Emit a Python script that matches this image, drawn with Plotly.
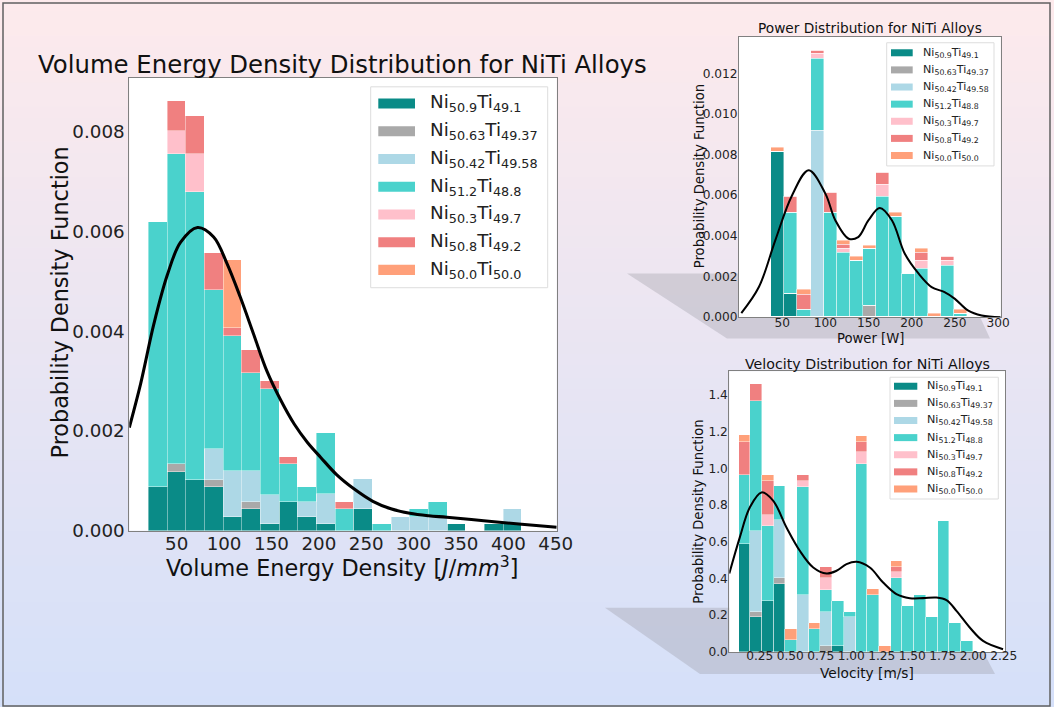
import plotly.graph_objects as go

W, H = 1054, 707          # reference canvas, all geometry below is given in these pixels
S = 1070 / 1054           # the page is photographed slightly larger than the window; compensate

# ---------------- data ----------------
alloys = ["Ni<sub>50.9</sub>Ti<sub>49.1</sub>", "Ni<sub>50.63</sub>Ti<sub>49.37</sub>",
          "Ni<sub>50.42</sub>Ti<sub>49.58</sub>", "Ni<sub>51.2</sub>Ti<sub>48.8</sub>",
          "Ni<sub>50.3</sub>Ti<sub>49.7</sub>", "Ni<sub>50.8</sub>Ti<sub>49.2</sub>",
          "Ni<sub>50.0</sub>Ti<sub>50.0</sub>"]
colors = ["#0a8b87", "#a9a9a9", "#add8e6", "#4ad2cc", "#ffc0cb", "#f08080", "#ffa07a"]

# Volume energy density histogram (20 bins)
ved_bin_start, ved_bin_width = 20.1, 19.7
ved_dark = [0.00088, 0.00118, 0.00103, 0.00088, 0.00028, 0.00043, 0.00013, 0.00059, 0.00028, 0.00013,
            0, 0.00043, 0, 0, 0, 0, 0.00013, 0, 0.00013, 0.00013]
ved_gray = [0, 0.00017, 0, 0.00015, 0, 0.00015, 0, 0, 0, 0, 0, 0, 0, 0, 0, 0, 0, 0, 0, 0]
ved_lightblue = [0, 0, 0, 0.00062, 0.00092, 0.00062, 0.0006, 0, 0.00031, 0.00062,
                 0, 0.00061, 0, 0.00028, 0.00028, 0.00028, 0, 0, 0, 0.00031]
ved_turq = [0.00531, 0.00621, 0.00577, 0.00318, 0.00271, 0.00197, 0.00212, 0.00076, 0.00029, 0.00122,
            0.00043, 0, 0.00013, 0, 0.00016, 0.00031, 0, 0, 0, 0]
ved_pink = [0, 0.00046, 0.00076, 0, 0, 0, 0, 0, 0, 0, 0, 0, 0, 0, 0, 0, 0, 0, 0, 0]
ved_red = [0, 0.00059, 0.00075, 0.00075, 0.00016, 0.00045, 0.00016, 0.00014, 0, 0,
           0.00015, 0, 0, 0, 0, 0, 0, 0, 0, 0]
ved_orange = [0, 0, 0, 0, 0.00136, 0, 0, 0, 0, 0, 0, 0, 0, 0, 0, 0, 0, 0, 0, 0]
ved_kde_x = [0, 12, 26, 40, 54, 72, 89, 103, 117, 131, 145, 160, 174, 188, 202, 219, 237,
             257, 276, 296, 316, 335, 374, 414, 451]
ved_kde_y = [0.00207, 0.00295, 0.00415, 0.00512, 0.00578, 0.00608, 0.00589, 0.00536, 0.00469, 0.00395,
             0.00321, 0.00261, 0.00214, 0.00177, 0.00147, 0.00112, 0.00084, 0.00059, 0.00044, 0.00035,
             0.0003, 0.00027, 0.0002, 0.00013, 0.00007]

# Power histogram (15 bins)
pow_bin_start, pow_bin_width = 37.5, 15.1
pow_dark = [0.00812, 0.00115, 0, 0, 0, 0, 0, 0, 0, 0, 0, 0, 0, 0, 0]
pow_gray = [0, 0, 0, 0, 0, 0, 0, 0.00058, 0, 0, 0, 0, 0, 0, 0]
pow_lightblue = [0, 0, 0, 0.00915, 0, 0, 0, 0, 0, 0, 0, 0, 0, 0, 0]
pow_turq = [0, 0.00399, 0.00038, 0.00355, 0.00514, 0.00316, 0.00276, 0.00277, 0.00592, 0.00493,
            0.00214, 0.00238, 0, 0.00255, 0.00016]
pow_pink = [0, 0, 0, 0.00025, 0, 0.00021, 0, 0, 0.00062, 0, 0, 0.00038, 0, 0.00021, 0]
pow_red = [0, 0.00079, 0.00074, 0.00018, 0.00099, 0.00021, 0, 0, 0.00058, 0, 0, 0.00041, 0, 0.0002, 0]
pow_orange = [0.00021, 0, 0.00024, 0, 0, 0.0002, 0.0002, 0.00018, 0, 0.00021, 0, 0.00018, 0.00016, 0, 0.0002]
pow_kde_x = [2.7, 23, 42, 61.5, 80.7, 100, 111.5, 127, 138, 150, 163, 177, 192, 208, 223, 238,
             250, 265, 281, 303]
pow_kde_y = [0.0002, 0.00148, 0.00378, 0.006, 0.00723, 0.00608, 0.00477, 0.00386, 0.00394, 0.00477,
             0.00537, 0.00477, 0.00312, 0.00214, 0.00148, 0.00123, 0.0009, 0.00033, 0.00008, 0.0]

# Velocity histogram (20 bins)
vel_bin_start, vel_bin_width = 0.078, 0.096
vel_dark = [0.587, 0.187, 0.278, 0.369, 0, 0, 0, 0, 0.033, 0, 0, 0, 0, 0, 0, 0, 0, 0, 0, 0]
vel_gray = [0, 0.031, 0, 0.031, 0, 0, 0, 0.033, 0, 0, 0, 0, 0, 0, 0, 0, 0, 0, 0, 0]
vel_lightblue = [0, 0.437, 0, 0.315, 0, 0.311, 0, 0.185, 0, 0.187, 0, 0, 0, 0, 0, 0, 0, 0, 0, 0]
vel_turq = [0.373, 0.71, 0.404, 0.185, 0.064, 0.585, 0.124, 0.12, 0.245, 0.031, 1.024, 0.309, 0,
            0.4, 0.247, 0.309, 0.187, 0.711, 0.155, 0.06]
vel_pink = [0, 0, 0.063, 0, 0, 0.033, 0, 0.062, 0, 0, 0.063, 0, 0, 0.033, 0, 0, 0, 0, 0, 0]
vel_red = [0.182, 0.091, 0.184, 0, 0, 0.031, 0, 0.064, 0, 0, 0.055, 0, 0, 0.031, 0, 0, 0, 0, 0, 0]
vel_orange = [0.036, 0, 0.031, 0, 0.06, 0, 0.031, 0, 0, 0, 0.033, 0.031, 0.033, 0.032, 0, 0, 0, 0, 0, 0]
vel_kde_x = [0, 0.086, 0.168, 0.264, 0.359, 0.469, 0.578, 0.688, 0.797, 0.879, 0.961, 1.043, 1.152,
             1.261, 1.37, 1.48, 1.589, 1.698, 1.78, 1.862, 1.971, 2.08, 2.244]
vel_kde_y = [0.427, 0.624, 0.787, 0.869, 0.824, 0.678, 0.551, 0.46, 0.427, 0.442, 0.478, 0.491, 0.46,
             0.378, 0.315, 0.293, 0.293, 0.296, 0.282, 0.224, 0.133, 0.06, 0.015]

ved_series = [ved_dark, ved_gray, ved_lightblue, ved_turq, ved_pink, ved_red, ved_orange]
pow_series = [pow_dark, pow_gray, pow_lightblue, pow_turq, pow_pink, pow_red, pow_orange]
vel_series = [vel_dark, vel_gray, vel_lightblue, vel_turq, vel_pink, vel_red, vel_orange]

# ---------------- helpers ----------------
def px(x):
    return x / W

def py(y):
    return 1 - y / H

def fs(v):
    return v * S

FONT = "DejaVu Sans"

fig = go.Figure()

def add_hist(series, start, width, xa, ya):
    centers = [start + width * (i + 0.5) for i in range(len(series[0]))]
    for name, col, vals in zip(alloys, colors, series):
        fig.add_trace(go.Bar(
            x=centers, y=vals, width=width, name=name,
            marker=dict(color=col, line=dict(color="rgba(255,255,255,0.7)", width=0.6)),
            xaxis=xa, yaxis=ya, showlegend=False, hoverinfo="skip"))

add_hist(ved_series, ved_bin_start, ved_bin_width, "x", "y")
add_hist(pow_series, pow_bin_start, pow_bin_width, "x2", "y2")
add_hist(vel_series, vel_bin_start, vel_bin_width, "x3", "y3")

fig.add_trace(go.Scatter(x=ved_kde_x, y=ved_kde_y, mode="lines",
                         line=dict(color="black", width=fs(3), shape="spline"),
                         xaxis="x", yaxis="y", showlegend=False, hoverinfo="skip"))
fig.add_trace(go.Scatter(x=pow_kde_x, y=pow_kde_y, mode="lines",
                         line=dict(color="black", width=fs(2), shape="spline"),
                         xaxis="x2", yaxis="y2", showlegend=False, hoverinfo="skip"))
fig.add_trace(go.Scatter(x=vel_kde_x, y=vel_kde_y, mode="lines",
                         line=dict(color="black", width=fs(2), shape="spline"),
                         xaxis="x3", yaxis="y3", showlegend=False, hoverinfo="skip"))

# ---------------- geometry ----------------
main_box = (129.3, 77.7, 556.7, 530.0)
pow_box = (739.0, 36.7, 1000.7, 316.7)
vel_box = (729.3, 370.7, 1005.0, 651.0)

def dom(box):
    x0, y0, x1, y1 = box
    return [px(x0), px(x1)], [py(y1), py(y0)]

axcommon = dict(showline=True, linecolor="#808080", linewidth=1, mirror=True, showgrid=False,
                zeroline=False, ticks="", color="#222")

mxd, myd = dom(main_box)
pxd, pyd = dom(pow_box)
vxd, vyd = dom(vel_box)

layout = dict(
    width=round(W * S), height=round(H * S), autosize=False,
    margin=dict(l=0, r=0, t=0, b=0),
    paper_bgcolor="white", plot_bgcolor="rgba(0,0,0,0)",
    barmode="stack", bargap=0, showlegend=False,
    font=dict(family=FONT, color="#222"),
    xaxis=dict(domain=mxd, range=[0, 451], tickvals=[50, 100, 150, 200, 250, 300, 350, 400, 450],
               tickfont=dict(size=fs(18)), ticklabelstandoff=-4, anchor="y", **axcommon),
    yaxis=dict(domain=myd, range=[0, 0.00908], tickvals=[0, 0.002, 0.004, 0.006, 0.008],
               tickformat=".3f", tickfont=dict(size=fs(18)), anchor="x", **axcommon),
    xaxis2=dict(domain=pxd, range=[0, 303], tickvals=[50, 100, 150, 200, 250, 300],
                tickfont=dict(size=fs(12)), ticklabelstandoff=-6, anchor="y2", **axcommon),
    yaxis2=dict(domain=pyd, range=[0, 0.0138], tickvals=[0, 0.002, 0.004, 0.006, 0.008, 0.010, 0.012],
                tickformat=".3f", tickfont=dict(size=fs(12)), ticklabelstandoff=-2, anchor="x2", **axcommon),
    xaxis3=dict(domain=vxd, range=[0, 2.26], tickvals=[0.25, 0.5, 0.75, 1.0, 1.25, 1.5, 1.75, 2.0, 2.25],
                tickformat=".2f", tickfont=dict(size=fs(12)), ticklabelstandoff=-8, anchor="y3", **axcommon),
    yaxis3=dict(domain=vyd, range=[0, 1.529], tickvals=[0, 0.2, 0.4, 0.6, 0.8, 1.0, 1.2, 1.4],
                tickformat=".1f", tickfont=dict(size=fs(12)), ticklabelstandoff=-2, anchor="x3", **axcommon),
)
fig.update_layout(**layout)

# ---------------- background ----------------
shapes = []
top = (253, 234, 236)
bot = (213, 224, 249)
n = 60
for i in range(n):
    t = i / (n - 1)
    c = tuple(int(round(top[k] + (bot[k] - top[k]) * t)) for k in range(3))
    y0 = H * i / n
    y1 = H * (i + 1) / n + 1
    shapes.append(dict(type="rect", xref="paper", yref="paper", x0=0, x1=1, y0=py(y1), y1=py(y0),
                       fillcolor="rgb(%d,%d,%d)" % c, line=dict(width=0), layer="below"))

def path(points):
    return "M " + " L ".join("%f,%f" % (px(x), py(y)) for x, y in points) + " Z"

# perspective shadows
shapes.append(dict(type="path", xref="paper", yref="paper",
                   path=path([(627, 273), (960, 273), (990, 338), (727, 338)]),
                   fillcolor="rgba(150,150,160,0.32)", line=dict(width=0), layer="below"))
shapes.append(dict(type="path", xref="paper", yref="paper",
                   path=path([(605, 607), (960, 607), (995, 673), (700, 673)]),
                   fillcolor="rgba(150,150,160,0.32)", line=dict(width=0), layer="below"))

# white plot areas
for b in (main_box, pow_box, vel_box):
    shapes.append(dict(type="rect", xref="paper", yref="paper", x0=px(b[0]), x1=px(b[2]),
                       y0=py(b[3]), y1=py(b[1]), fillcolor="white", line=dict(width=0), layer="below"))

# outer frame
shapes.append(dict(type="rect", xref="paper", yref="paper", x0=px(3), x1=px(1050), y0=py(705), y1=py(3),
                   line=dict(color="#606060", width=1.5), fillcolor="rgba(0,0,0,0)", layer="above"))

# ---------------- text ----------------
ann = []
def text(x, y, s, size, angle=0, anchor="center", color="#111"):
    ann.append(dict(x=px(x), y=py(y), xref="paper", yref="paper", text=s, showarrow=False,
                    font=dict(size=fs(size), family=FONT, color=color), textangle=angle,
                    xanchor=anchor, yanchor="middle"))

# ---------------- legends (boxes with wide swatches) ----------------
def legend(box, sw_x0, sw_x1, sw_h, y_first, step, text_x, size):
    bx0, by0, bx1, by1 = box
    shapes.append(dict(type="rect", xref="paper", yref="paper", x0=px(bx0), x1=px(bx1),
                       y0=py(by1), y1=py(by0), fillcolor="rgba(255,255,255,0.85)",
                       line=dict(color="#dddddd", width=1), layer="above"))
    for i, (name, col) in enumerate(zip(alloys, colors)):
        yc = y_first + i * step
        shapes.append(dict(type="rect", xref="paper", yref="paper", x0=px(sw_x0), x1=px(sw_x1),
                           y0=py(yc + sw_h / 2), y1=py(yc - sw_h / 2), fillcolor=col,
                           line=dict(width=0), layer="above"))
        text(text_x, yc, name, size, anchor="left", color="#222")

legend((370.7, 86.7, 547.7, 287.3), 378.3, 415.0, 10, 103.3, 27.7, 428, 18)
legend((886.7, 42.7, 994.0, 165.7), 891.0, 912.7, 7, 52.7, 17.1, 921, 11)
legend((890.0, 376.7, 998.3, 498.3), 894.0, 917.3, 7, 385.7, 17.1, 925, 11)

text(342, 64, "Volume Energy Density Distribution for NiTi Alloys", 24)
text(342, 566, "Volume Energy Density [<i>J</i>/<i>mm</i><sup>3</sup>]", 22)
text(60, 302, "Probability Density Function", 22, -90)

text(870, 28, "Power Distribution for NiTi Alloys", 13.5)
text(870, 338, "Power [W]", 13)
text(699, 176, "Probability Density Function", 13, -90)

text(867, 363, "Velocity Distribution for NiTi Alloys", 14)
text(867, 672, "Velocity [m/s]", 13.5)
text(699, 511, "Probability Density Function", 13, -90)

fig.update_layout(shapes=shapes, annotations=ann)

# remove the default page margin and scrollbars synchronously so the figure starts at the corner
fig.write_html("out.html", config={"displayModeBar": False},
               post_script="}); document.documentElement.style.overflow='hidden'; "
                           "document.body.style.margin='0'; document.body.style.overflow='hidden'; (function(){")
